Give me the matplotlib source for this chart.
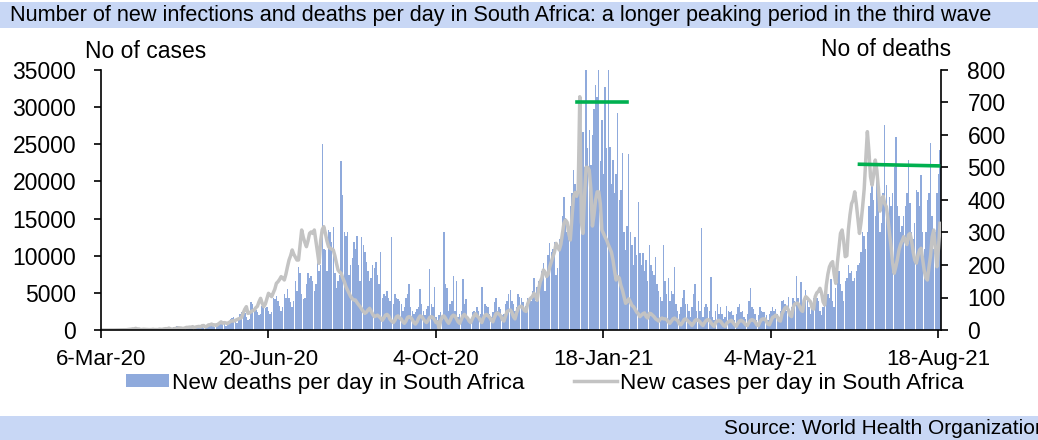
import matplotlib
matplotlib.use("Agg")
import matplotlib.pyplot as plt
import pandas as pd
from matplotlib.patches import Rectangle
from matplotlib.lines import Line2D

plt.rcParams['font.family'] = ['Liberation Sans', 'DejaVu Sans']

start_date = "2020-03-06"

# New deaths per day (right axis), one row per week starting 6-Mar-20
deaths = [
    0,0,0,0,0,0,0,
    0,0,0,0,0,0,0,
    0,0,0,0,0,0,0,
    1,0,0,0,1,2,1,
    2,1,0,2,1,2,5,
    3,2,1,2,4,5,7,
    9,6,2,3,8,10,12,
    7,6,3,5,8,10,13,
    9,8,5,6,12,14,16,
    12,10,6,8,15,17,20,
    16,13,8,10,20,24,25,
    22,18,12,15,28,33,38,
    40,32,22,30,50,55,48,
    52,40,30,35,85,80,70,
    62,55,45,50,75,82,68,
    70,60,50,55,100,95,105,
    90,75,60,70,110,100,126,
    100,85,70,90,150,120,194,
    174,110,95,100,140,174,160,
    165,150,120,140,210,180,200,
    572,250,246,180,308,300,270,
    318,175,130,150,170,519,415,
    300,290,300,170,200,220,270,
    250,290,200,150,285,260,240,
    210,180,150,160,200,190,210,
    170,140,241,100,110,105,120,
    100,90,287,80,110,100,95,
    90,80,60,70,100,110,142,
    70,60,50,55,65,70,125,
    80,60,45,65,75,187,80,
    70,133,40,30,45,55,30,
    302,140,130,60,80,90,166,
    60,151,40,50,60,157,80,
    96,40,35,30,55,60,50,
    70,60,50,131,40,80,75,
    70,50,40,55,85,100,60,
    70,65,45,50,80,90,110,
    123,90,80,60,70,110,103,
    100,85,60,75,100,95,90,
    120,160,90,133,150,140,180,
    205,120,160,230,268,240,250,
    270,170,190,280,280,350,410,
    344,300,330,380,420,492,450,
    420,450,480,400,610,502,820,
    560,615,508,600,680,754,718,
    820,520,646,480,749,560,820,
    564,450,523,420,480,667,400,
    430,544,300,246,320,541,300,
    260,200,287,230,395,236,200,
    236,180,215,150,260,200,180,
    170,226,140,120,103,90,261,
    150,110,160,90,120,110,195,
    80,60,50,70,100,123,80,
    80,60,40,70,110,143,60,
    90,60,313,40,70,80,70,
    60,162,40,30,60,80,50,
    70,50,35,40,75,60,55,
    60,45,30,50,70,80,55,
    60,40,35,50,90,128,70,
    65,50,30,45,70,60,55,
    55,45,30,50,60,70,60,
    65,50,40,60,90,92,80,
    60,103,45,70,100,90,166,
    100,80,148,60,80,123,100,
    70,50,80,100,110,100,90,
    60,45,70,120,130,110,100,
    157,90,70,130,220,180,140,
    120,90,150,160,200,174,180,
    150,160,180,200,206,240,303,
    290,250,300,380,420,472,400,
    350,460,380,300,330,420,630,
    446,350,410,380,420,500,595,
    380,350,300,321,350,380,420,
    523,390,300,280,330,430,425,
    380,477,300,250,300,400,420,
    574,350,250,300,420,480,554,
]

# New cases per day (left axis)
cases = [
    1,0,1,0,3,6,7,
    14,7,13,10,21,34,31,
    52,38,34,65,88,107,148,
    150,220,100,150,50,80,100,
    80,70,60,55,65,95,60,
    65,50,120,85,100,150,180,
    170,250,150,100,150,200,250,
    300,280,250,180,270,350,350,
    390,370,450,300,400,450,480,
    420,580,600,400,500,690,700,
    800,660,700,600,770,950,1100,
    900,1000,950,850,1000,1150,1250,
    1200,1300,1400,1500,1570,1700,2300,
    2800,3140,2240,2300,2470,2600,2690,
    3000,3200,3800,4260,3600,3140,3500,
    4200,4940,4700,4490,5000,5500,6280,
    6500,6800,7180,7000,6730,7500,8500,
    9420,10000,10770,10200,9800,9420,9420,
    11500,13460,12500,11800,11220,12000,13010,
    13200,13000,13460,12000,10500,8970,12000,
    13500,13910,13000,12000,11220,11000,10900,
    10770,10000,9000,8080,7800,7630,7000,
    6500,5830,5400,4940,4500,4200,4040,
    4040,3700,3400,3140,2800,2500,2240,
    2400,2700,2920,2500,2100,1790,1900,
    2000,1800,1600,1300,1600,2000,2100,
    1900,1400,1200,1000,1300,1800,1900,
    1600,1500,1100,900,1200,1700,1800,
    1700,1400,1000,800,1100,1600,1900,
    1800,1500,1200,1000,1300,1700,1800,
    1700,1400,1000,1100,200,1300,1800,
    1900,1600,1200,900,1300,1800,2000,
    1900,1500,1100,900,1400,1900,2100,
    1800,1600,1200,1000,1500,1900,2200,
    1900,1700,1300,1000,1600,2000,2100,
    1900,1700,1300,1100,1700,2200,2300,
    2100,1900,1400,1200,1900,2500,2600,
    2700,2400,1800,1500,2300,2900,3140,
    3200,3000,2600,2500,3500,4040,4300,
    4500,4940,4600,4000,5500,6500,7000,
    8080,7800,7200,7500,8500,9200,9870,
    10500,11660,11200,10770,11500,13000,14400,
    14800,14500,13000,12110,15000,17900,18500,
    18000,18840,31400,14500,13000,18000,21900,
    21900,21500,19000,14000,15500,17500,18600,
    18600,17000,13460,13000,12500,12100,11500,
    11000,10500,9420,8000,6730,7180,7000,
    6000,5380,4500,3590,3800,4200,3800,
    3300,3140,2800,2400,2200,1790,2000,
    2200,2300,1800,1600,2240,2200,2000,
    1800,1500,1350,1200,1500,1600,1500,
    1500,1400,1100,900,1200,1500,1600,
    1400,1300,800,700,1000,1400,1500,
    1300,1100,900,600,900,1300,1400,
    1300,1100,800,600,1000,1300,1400,
    1300,1000,700,500,1000,1200,1300,
    1200,900,600,500,900,1100,1200,
    1300,1000,700,500,900,1200,1300,
    1200,1000,700,600,1000,1300,1400,
    1300,1100,700,600,1100,1400,1500,
    1500,1200,800,700,1200,1700,1800,
    2000,1800,1300,1200,2200,2600,3000,
    3100,2700,2000,1800,3000,3500,3600,
    3600,3200,2700,2500,4000,4490,4300,
    4040,3800,3000,2800,4500,5000,5200,
    5610,5000,3800,3370,6000,7500,8500,
    8970,9200,7500,6280,9000,11000,13010,
    13460,12000,9870,10000,13500,15500,17000,
    17500,18600,17000,15000,13000,14500,16600,
    19000,23000,26700,24000,20640,19500,21000,
    22880,21500,19000,16000,17500,18000,17000,
    16600,15000,13000,11220,9000,7630,8500,
    9500,10770,11500,12000,12560,12000,11500,
    12800,13000,12000,10500,9420,9000,10000,
    10770,11000,9500,8000,7000,6730,8500,
    10000,12500,13460,11000,8520,11000,14360,
]

# Peak-period markers (deaths scale)
peak2_dates = ["2021-01-01", "2021-02-02"]
peak2_vals = [700, 700]
peak3_dates = ["2021-06-29", "2021-08-18"]
peak3_vals = [510, 505]

tick_dates = ["2020-03-06", "2020-06-20", "2020-10-04", "2021-01-18", "2021-05-04", "2021-08-18"]
tick_labels = ["6-Mar-20", "20-Jun-20", "4-Oct-20", "18-Jan-21", "4-May-21", "18-Aug-21"]

title = "Number of new infections and deaths per day in South Africa: a longer peaking period in the third wave"
source = "Source: World Health Organization"

dates = pd.date_range(start_date, periods=len(deaths), freq="D")

W, H = 1038, 440
fig = plt.figure(figsize=(W / 100, H / 100), dpi=100)

band_color = "#C8D7F5"
fig.patches.append(Rectangle((0, 1 - 28 / H), 1, 26 / H, transform=fig.transFigure,
                             facecolor=band_color, edgecolor="none", zorder=0))
fig.patches.append(Rectangle((0, 0), 1, 24 / H, transform=fig.transFigure,
                             facecolor=band_color, edgecolor="none", zorder=0))
fig.text(10 / W, 1 - 15 / H, title, fontsize=15.6, va="center", ha="left")
fig.text(724 / W, 1 - 428 / H, source, fontsize=15, va="center", ha="left")

ax = fig.add_axes([101 / W, 110 / H, 840 / W, 260 / H])
ax2 = ax.twinx()

bar_color = "#8FAADC"
line_color = "#C3C3C3"
ax2.bar(dates, deaths, width=0.9, color=bar_color, linewidth=0)
ax.plot(dates, cases, color=line_color, lw=2.5, solid_joinstyle="round")
ax.plot(pd.to_datetime(peak2_dates), peak2_vals, color="#00B050", lw=2.6,
        transform=ax2.transData)
ax.plot(pd.to_datetime(peak3_dates), peak3_vals, color="#00B050", lw=2.6,
        transform=ax2.transData)

ax.set_zorder(ax2.get_zorder() + 1)
ax.patch.set_visible(False)

x0 = pd.Timestamp(start_date)
ax.set_xlim(x0, x0 + pd.Timedelta(days=531.6))
ax.set_ylim(0, 35000)
ax2.set_ylim(0, 800)
ax.set_yticks(range(0, 35001, 5000))
ax2.set_yticks(range(0, 801, 100))
ax.set_xticks(pd.to_datetime(tick_dates))
ax.set_xticklabels(tick_labels)

for a in (ax, ax2):
    a.spines["top"].set_visible(False)
ax.spines["right"].set_visible(False)
ax2.spines["left"].set_visible(False)
ax2.spines["bottom"].set_visible(False)
for s in ("left", "bottom"):
    ax.spines[s].set_linewidth(1.2)
ax2.spines["right"].set_linewidth(1.2)

ax.tick_params(axis="y", direction="out", length=5, width=1.2, labelsize=16.5, pad=13)
ax2.tick_params(axis="y", direction="out", length=5, width=1.2, labelsize=16.5, pad=14)
ax.tick_params(axis="x", direction="out", length=6, width=1.2, labelsize=16, pad=8)

fig.text(146 / W, 1 - 52 / H, "No of cases", fontsize=16.5, ha="center", va="center")
fig.text(886 / W, 1 - 49 / H, "No of deaths", fontsize=16.5, ha="center", va="center")

handles = [Rectangle((0, 0), 1, 1, facecolor=bar_color, edgecolor="none"),
           Line2D([], [], color=line_color, lw=2.5)]
labels = ["New deaths per day in South Africa", "New cases per day in South Africa"]
fig.legend(handles, labels, loc="center", bbox_to_anchor=(545 / W, 1 - 383 / H),
           ncol=2, frameon=False, fontsize=16.2, handlelength=1.9, handleheight=0.55,
           handletextpad=0.15, columnspacing=2.2, borderpad=0, borderaxespad=0)

fig.savefig("out.png", dpi=100)
